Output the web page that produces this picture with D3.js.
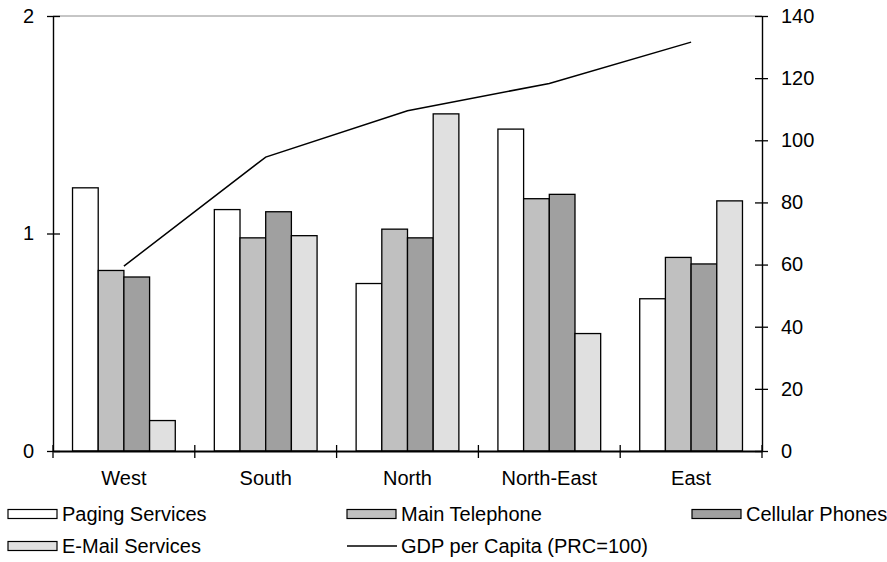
<!DOCTYPE html>
<html>
<head>
<meta charset="utf-8">
<script src="https://cdn.jsdelivr.net/npm/d3@7"></script>
<style>
  html, body { margin: 0; padding: 0; background: #fff; }
  svg { display: block; font-family: "Liberation Sans", Arial, sans-serif; }
</style>
</head>
<body>
<svg id="chart" width="887" height="562"></svg>
<script>
const categories = ["West", "South", "North", "North-East", "East"];
const seriesNames = ["Paging Services", "Main Telephone", "Cellular Phones", "E-Mail Services"];
const paging    = [1.21, 1.11, 0.77, 1.48, 0.70];
const mainTel   = [0.83, 0.98, 1.02, 1.16, 0.89];
const cellular  = [0.80, 1.10, 0.98, 1.18, 0.86];
const email     = [0.14, 0.99, 1.55, 0.54, 1.15];
const gdp       = [59.5, 94.6, 109.5, 118.3, 131.6];
const leftTicks = [0, 1, 2];
const rightTicks = [0, 20, 40, 60, 80, 100, 120, 140];
const lineName = "GDP per Capita (PRC=100)";
const colors = ["#ffffff", "#c0c0c0", "#a0a0a0", "#e0e0e0"];

(function () {
const seriesValues = [paging, mainTel, cellular, email];

const svg = d3.select("#chart");
const pL = 53, pR = 762, pT = 16, pB = 451;

const x = d3.scaleBand().domain(categories).range([pL, pR]).padding(0);
const xs = d3.scaleBand().domain(seriesNames).range([0, x.bandwidth()]).paddingInner(0).paddingOuter(0.76);
const yL = d3.scaleLinear().domain([0, 2]).range([pB, pT]);
const yR = d3.scaleLinear().domain([0, 140]).range([pB, pT]);

// top gray border line
svg.append("line").attr("x1", pL).attr("x2", pR).attr("y1", pT).attr("y2", pT)
  .attr("stroke", "#8c8c8c").attr("stroke-width", 1);

// bars
const groups = svg.append("g").selectAll("g").data(categories).join("g")
  .attr("transform", d => `translate(${x(d)},0)`);
groups.selectAll("rect")
  .data((c, i) => seriesNames.map((s, j) => ({ s, j, v: seriesValues[j][i] })))
  .join("rect")
  .attr("x", d => xs(d.s))
  .attr("width", xs.bandwidth())
  .attr("y", d => yL(d.v))
  .attr("height", d => pB - yL(d.v))
  .attr("fill", d => colors[d.j])
  .attr("stroke", "#000")
  .attr("stroke-width", 1.3);

// GDP line
const line = d3.line().x((d, i) => x(categories[i]) + x.bandwidth() / 2).y(d => yR(d));
svg.append("path").datum(gdp).attr("d", line)
  .attr("fill", "none").attr("stroke", "#000").attr("stroke-width", 1.5);

// left axis
const axL = d3.axisLeft(yL).tickValues(leftTicks).tickSizeInner(6).tickSizeOuter(0).tickPadding(13).tickFormat(d3.format("d"));
const gL = svg.append("g").attr("transform", `translate(${pL},0)`).call(axL);
gL.select(".domain").attr("stroke", "#000").attr("stroke-width", 1.4);
gL.selectAll(".tick line").attr("x1", -6).attr("x2", 7).attr("stroke", "#000").attr("stroke-width", 1.3);

// right axis
const axR = d3.axisRight(yR).tickValues(rightTicks).tickSizeInner(6).tickSizeOuter(0).tickPadding(13).tickFormat(d3.format("d"));
const gR = svg.append("g").attr("transform", `translate(${pR},0)`).call(axR);
gR.select(".domain").attr("stroke", "#000").attr("stroke-width", 1.4);
gR.selectAll(".tick line").attr("x1", -7).attr("x2", 6).attr("stroke", "#000").attr("stroke-width", 1.3);

// bottom axis
const axB = d3.axisBottom(x).tickSize(0).tickPadding(20);
const gB = svg.append("g").attr("transform", `translate(0,${pB})`).call(axB);
gB.select(".domain").attr("stroke", "#000").attr("stroke-width", 2.2);
const boundaries = [pL].concat(categories.map(c => x(c) + x.bandwidth()));
gB.selectAll(".sep").data(boundaries).join("line").attr("class", "sep")
  .attr("x1", d => d).attr("x2", d => d).attr("y1", -6).attr("y2", 7)
  .attr("stroke", "#000").attr("stroke-width", 1.3);

svg.selectAll(".tick text").attr("font-size", 20).attr("fill", "#000")
  .attr("font-family", "'Liberation Sans', Arial, sans-serif");

// legend
const legendItems = [
  { name: seriesNames[0], type: "box", color: colors[0], x: 8, y: 514 },
  { name: seriesNames[1], type: "box", color: colors[1], x: 347, y: 514 },
  { name: seriesNames[2], type: "box", color: colors[2], x: 692, y: 514 },
  { name: seriesNames[3], type: "box", color: colors[3], x: 8, y: 546 },
  { name: lineName, type: "line", x: 347, y: 546 }
];
const lg = svg.append("g").selectAll("g").data(legendItems).join("g")
  .attr("transform", d => `translate(${d.x},${d.y})`);
lg.filter(d => d.type === "box").append("rect")
  .attr("x", 0).attr("y", -4.5).attr("width", 49).attr("height", 9)
  .attr("fill", d => d.color).attr("stroke", "#000").attr("stroke-width", 1.2);
lg.filter(d => d.type === "line").append("line")
  .attr("x1", 0).attr("x2", 50).attr("y1", 0).attr("y2", 0)
  .attr("stroke", "#000").attr("stroke-width", 1.5);
lg.append("text").attr("x", 54).attr("y", 0).attr("dy", "0.35em")
  .attr("font-size", 20).attr("fill", "#000").text(d => d.name);
})();
</script>
</body>
</html>
